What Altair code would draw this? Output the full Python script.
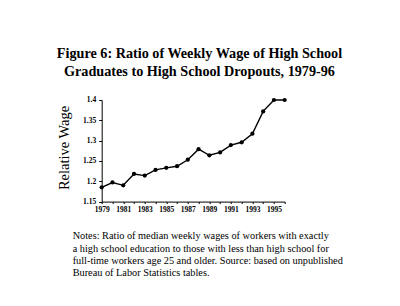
import altair as alt
import pandas as pd

years = list(range(1979, 1997))
ratio = [1.185, 1.197, 1.190, 1.218, 1.214, 1.228, 1.233, 1.237, 1.253,
         1.279, 1.264, 1.271, 1.289, 1.296, 1.317, 1.372, 1.400, 1.400]
y_ticks = [1.15, 1.2, 1.25, 1.3, 1.35, 1.4]
title_lines = ["Figure 6: Ratio of Weekly Wage of High School",
               "Graduates to High School Dropouts, 1979-96"]
note_lines = ["Notes: Ratio of median weekly wages of workers with exactly",
              "a high school education to those with less than high school for",
              "full-time workers age 25 and older.  Source: based on unpublished",
              "Bureau of  Labor Statistics tables."]
y_title = "Relative Wage"

df = pd.DataFrame({"year": years, "ratio": ratio})
serif = "Liberation Serif"

line = alt.Chart(df).mark_line(
    color="black", strokeWidth=1.4,
    point=alt.OverlayMarkDef(filled=True, color="black", size=18, opacity=1),
).encode(
    x=alt.X("year:Q",
            scale=alt.Scale(domain=[1979, 1996], nice=False, zero=False),
            axis=alt.Axis(values=years, title=None, grid=False, labelOverlap=False,
                          labelFlush=False,
                          labelExpr="datum.value % 2 == 1 ? format(datum.value, 'd') : ''",
                          labelFont=serif, labelFontWeight="bold", labelFontSize=7.5,
                          labelColor="black", labelPadding=2, tickSize=2,
                          tickColor="black", domainColor="black")),
    y=alt.Y("ratio:Q",
            scale=alt.Scale(domain=[1.15, 1.4], nice=False, zero=False),
            axis=alt.Axis(values=y_ticks, title=None, grid=False, labelOverlap=False,
                          labelFlush=False,
                          labelExpr="format(datum.value, '.2~f')",
                          labelFont=serif, labelFontWeight="bold", labelFontSize=7.5,
                          labelColor="black", labelPadding=3, tickSize=3,
                          tickColor="black", domainColor="black")),
)

one = alt.Data(values=[{}])
layers = [line]
for i, t in enumerate(title_lines):
    layers.append(alt.Chart(one).mark_text(
        text=t, font=serif, fontWeight="bold", fontSize=14.2, color="black",
        align="center", baseline="middle").encode(
        x=alt.value(97.8), y=alt.value([-46, -27.5][i])))
for i, t in enumerate(note_lines):
    layers.append(alt.Chart(one).mark_text(
        text=t, font=serif, fontSize=10.3, color="black",
        align="left", baseline="middle").encode(
        x=alt.value(-29), y=alt.value([136, 149, 161, 173.5][i])))
layers.append(alt.Chart(one).mark_text(
    text=y_title, font=serif, fontSize=14.5, color="black", angle=270,
    align="center", baseline="middle").encode(
    x=alt.value(-37), y=alt.value(48)))

chart = alt.layer(*layers).properties(
    width=183, height=101.6,
    autosize=alt.AutoSizeParams(type="none"),
    padding={"left": 101.7, "top": 100, "right": 115, "bottom": 104},
    background="white",
).configure_view(stroke=None)

chart.save("out.html", embed_options={"renderer": "svg", "actions": False})
